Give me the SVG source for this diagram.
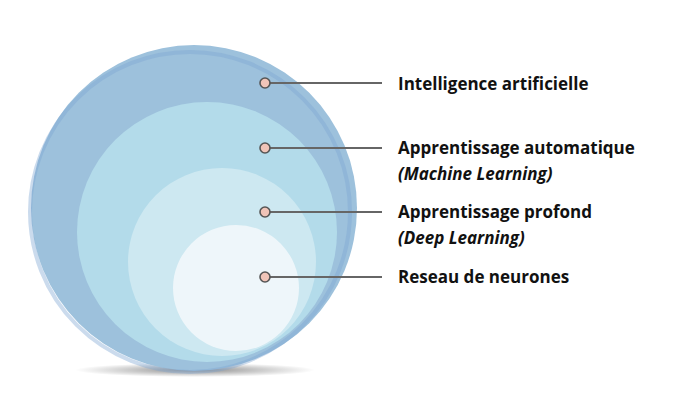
<svg xmlns="http://www.w3.org/2000/svg" width="700" height="419" viewBox="0 0 700 419">
<style>
.lbl{font-family:"Open Sans","Liberation Sans",sans-serif;font-size:17px;font-weight:bold;fill:#111}
.it{font-style:italic}
.dot{fill:#f0c4b8;stroke:#555;stroke-width:1.6}
.ln{stroke:#666;stroke-width:2}
</style>
<defs>
<radialGradient id="sh" cx="0.5" cy="0.5" r="0.5"><stop offset="0" stop-color="#000" stop-opacity="0.45"/><stop offset="1" stop-color="#000" stop-opacity="0"/></radialGradient>
</defs>
<rect width="700" height="419" fill="#fff"/>
<ellipse cx="195" cy="370" rx="120" ry="7" fill="url(#sh)"/>
<g id="ia"><circle cx="194" cy="208" r="163" fill="#9dc1dc"/><circle cx="190" cy="212" r="160" fill="none" stroke="#7ea6d2" stroke-width="4" opacity="0.4"/></g>
<g id="ml"><circle cx="207" cy="232" r="130" fill="#b3dbea"/></g>
<g id="dl"><circle cx="222" cy="262" r="94" fill="#cde8f1"/></g>
<g id="nn"><circle cx="236" cy="288" r="63" fill="#eef6fa"/></g>
<g id="connectors">
<line class="ln" x1="265" y1="83" x2="382" y2="83"/>
<line class="ln" x1="265" y1="148" x2="382" y2="148"/>
<line class="ln" x1="265" y1="212" x2="382" y2="212"/>
<line class="ln" x1="265" y1="277" x2="382" y2="277"/>
<circle class="dot" cx="265" cy="83" r="5"/>
<circle class="dot" cx="265" cy="148" r="5"/>
<circle class="dot" cx="265" cy="212" r="5"/>
<circle class="dot" cx="265" cy="277" r="5"/>
</g>
<g id="labels">
<text class="lbl" x="398" y="90">Intelligence artificielle</text>
<text class="lbl" x="398" y="154">Apprentissage automatique</text>
<text class="lbl it" x="398" y="180">(Machine Learning)</text>
<text class="lbl" x="398" y="218">Apprentissage profond</text>
<text class="lbl it" x="398" y="244">(Deep Learning)</text>
<text class="lbl" x="398" y="283">Reseau de neurones</text>
</g>
</svg>
